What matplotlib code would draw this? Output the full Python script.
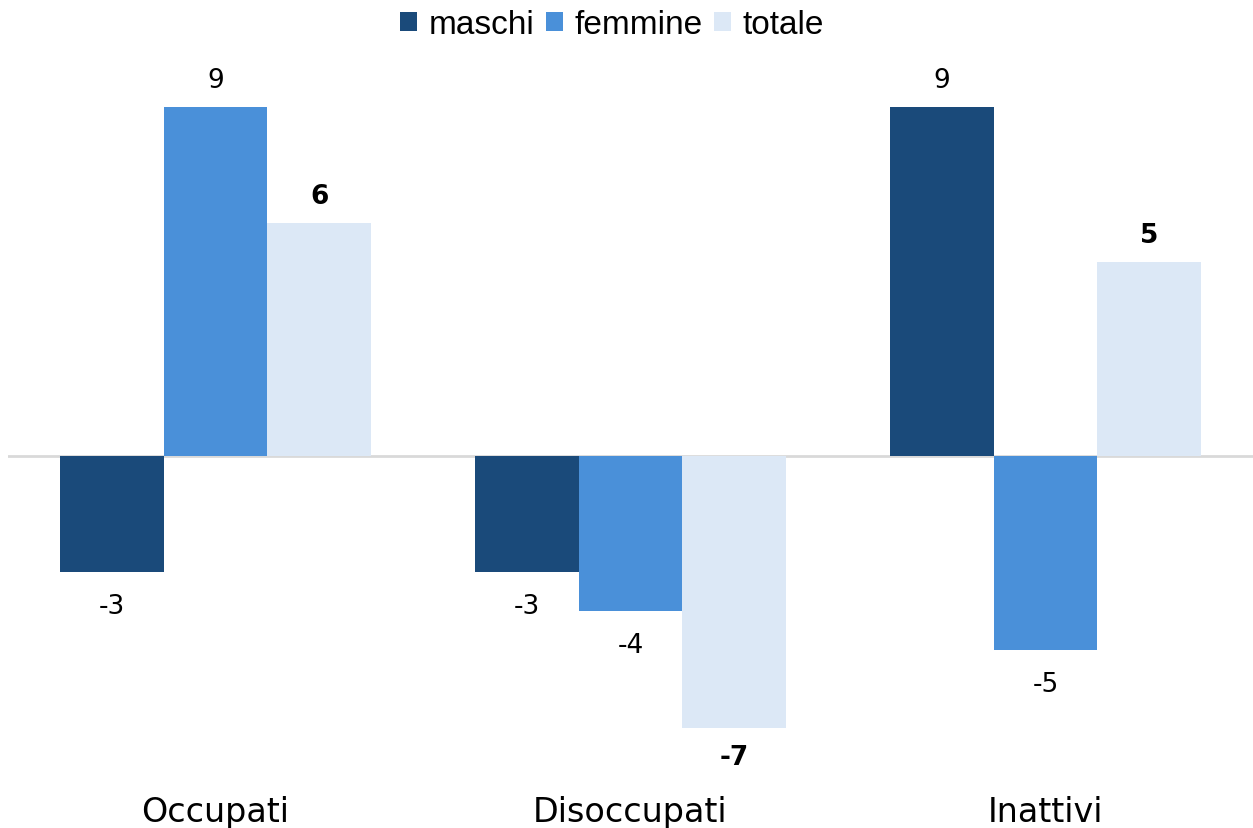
import matplotlib
matplotlib.use("Agg")
import matplotlib.pyplot as plt
from matplotlib.patches import Patch
import numpy as np

categories = ["Occupati", "Disoccupati", "Inattivi"]
series_names = ["maschi", "femmine", "totale"]
maschi = [-3, -3, 9]
femmine = [9, -4, -5]
totale = [6, -7, 5]
colors = ["#1A4A7A", "#4A90D9", "#DCE8F6"]

W, H = 1253, 829
fig = plt.figure(figsize=(W / 100, H / 100), dpi=100)
ax = fig.add_axes([8 / W, (H - 790) / H, (W - 8) / W, 740 / H])

x = np.arange(len(categories))
bw = 0.25
data = [maschi, femmine, totale]
for i, (vals, col, name) in enumerate(zip(data, colors, series_names)):
    pos = x + (i - 1) * bw
    ax.bar(pos, vals, width=bw, color=col, label=name, zorder=2)
    bold = (name == "totale")
    for px_, v in zip(pos, vals):
        if v >= 0:
            ax.annotate(f"{v}", (px_, v), xytext=(0, 10), textcoords="offset points",
                        ha="center", va="bottom", fontsize=19, family="DejaVu Sans",
                        fontweight="bold" if bold else "normal", color="black")
        else:
            ax.annotate(f"{v}", (px_, v), xytext=(0, -12 if bold else -15), textcoords="offset points",
                        ha="center", va="top", fontsize=19, family="DejaVu Sans",
                        fontweight="bold" if bold else "normal", color="black")

ax.axhline(0, color="#D9D9D9", lw=2, zorder=1)
ax.set_xlim(-0.5, 2.5)
ax.set_ylim(-8.58, 10.49)
ax.set_yticks([])
ax.set_xticks(x)
ax.set_xticklabels(categories, fontsize=24, family="DejaVu Sans")
ax.tick_params(axis="x", length=0, pad=4)
for s in ax.spines.values():
    s.set_visible(False)

handles = [Patch(facecolor=c, edgecolor="none") for c in colors]
fig.legend(handles, series_names, loc="center", bbox_to_anchor=(612 / W, 1 - 26 / H),
           ncol=3, frameon=False, handlelength=0.5, handleheight=0.5,
           handletextpad=0.35, columnspacing=0.35, prop={"family": "Liberation Sans", "size": 24})

fig.savefig("out.png", dpi=100)
